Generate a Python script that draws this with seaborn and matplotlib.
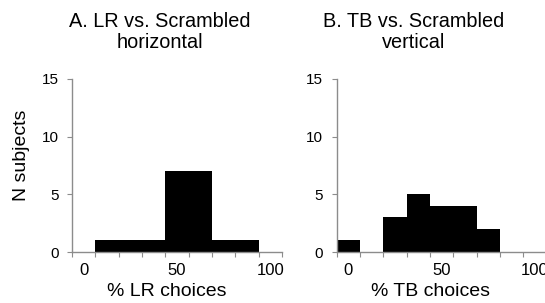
import matplotlib
matplotlib.use("Agg")
import matplotlib.pyplot as plt
import seaborn as sns
import pandas as pd

# data: 9 response bins (0, 12.5, ..., 100 % choices), counts of subjects
bins = ["0", "12.5", "25", "37.5", "50", "62.5", "75", "87.5", "100"]
counts_lr = [0, 1, 1, 1, 7, 7, 1, 1, 0]
counts_tb = [1, 0, 3, 5, 4, 4, 2, 0, 0]
xtick_labels = ["0", "50", "100"]
ytick_values = [0, 5, 10, 15]
titles = ["A. LR vs. Scrambled\nhorizontal", "B. TB vs. Scrambled\nvertical"]
xlabels = ["% LR choices", "% TB choices"]
ylabel = "N subjects"

sns.set_style("white")
plt.rcParams["font.family"] = ["Liberation Sans", "DejaVu Sans"]
plt.rcParams["text.color"] = "black"
plt.rcParams["xtick.color"] = "black"
plt.rcParams["ytick.color"] = "black"

W, H = 545, 303
fig = plt.figure(figsize=(W / 100, H / 100), dpi=100)

def frac_axes(l, r, t, b):
    return fig.add_axes([l / W, 1 - b / H, (r - l) / W, (b - t) / H])

ax_a = frac_axes(72, 282, 79, 252)
ax_b = frac_axes(336.5, 546.5, 79, 252)

grey = "#8c8c8c"
title_x = [160, 413.5]
label_x = [166.5, 430.5]
for i, (ax, counts) in enumerate(zip([ax_a, ax_b], [counts_lr, counts_tb])):
    df = pd.DataFrame({"bin": bins, "n": counts})
    sns.barplot(data=df, x="bin", y="n", order=bins, color="black",
                width=1.0, linewidth=0, saturation=1, ax=ax)
    ax.set_xlim(-0.5, len(bins) - 0.5)
    ax.set_ylim(0, 15)
    for s in ["top", "right"]:
        ax.spines[s].set_visible(False)
    for s in ["left", "bottom"]:
        ax.spines[s].set_color(grey)
        ax.spines[s].set_linewidth(1.0)
    ax.set_yticks(ytick_values)
    ax.set_yticklabels([str(v) for v in ytick_values], fontsize=11)
    ax.tick_params(axis="y", which="major", direction="out", length=3.5,
                   color=grey, labelcolor="black", pad=6, left=True)
    # bin boundaries as tick marks, labels at bin centres
    ax.set_xticks([k - 0.5 for k in range(len(bins) + 1)])
    ax.set_xticklabels([])
    ax.set_xticks([0, 4, 8], minor=True)
    ax.set_xticklabels(xtick_labels, minor=True, fontsize=12)
    ax.tick_params(axis="x", which="major", direction="out", length=3.5,
                   color=grey, bottom=True)
    ax.tick_params(axis="x", which="minor", length=0, pad=8,
                   labelcolor="black")
    ax.set_xlabel("")
    ax.set_ylabel("")
    fig.text(title_x[i] / W, 1 - 32 / H, titles[i], ha="center", va="center",
             fontsize=14.3, linespacing=1.12)
    fig.text(label_x[i] / W, 1 - 296 / H, xlabels[i], ha="center",
             va="baseline", fontsize=14)

fig.text(22 / W, 1 - 155 / H, ylabel, ha="center", va="center", rotation=90,
         fontsize=14)

fig.savefig("out.png", dpi=100)
